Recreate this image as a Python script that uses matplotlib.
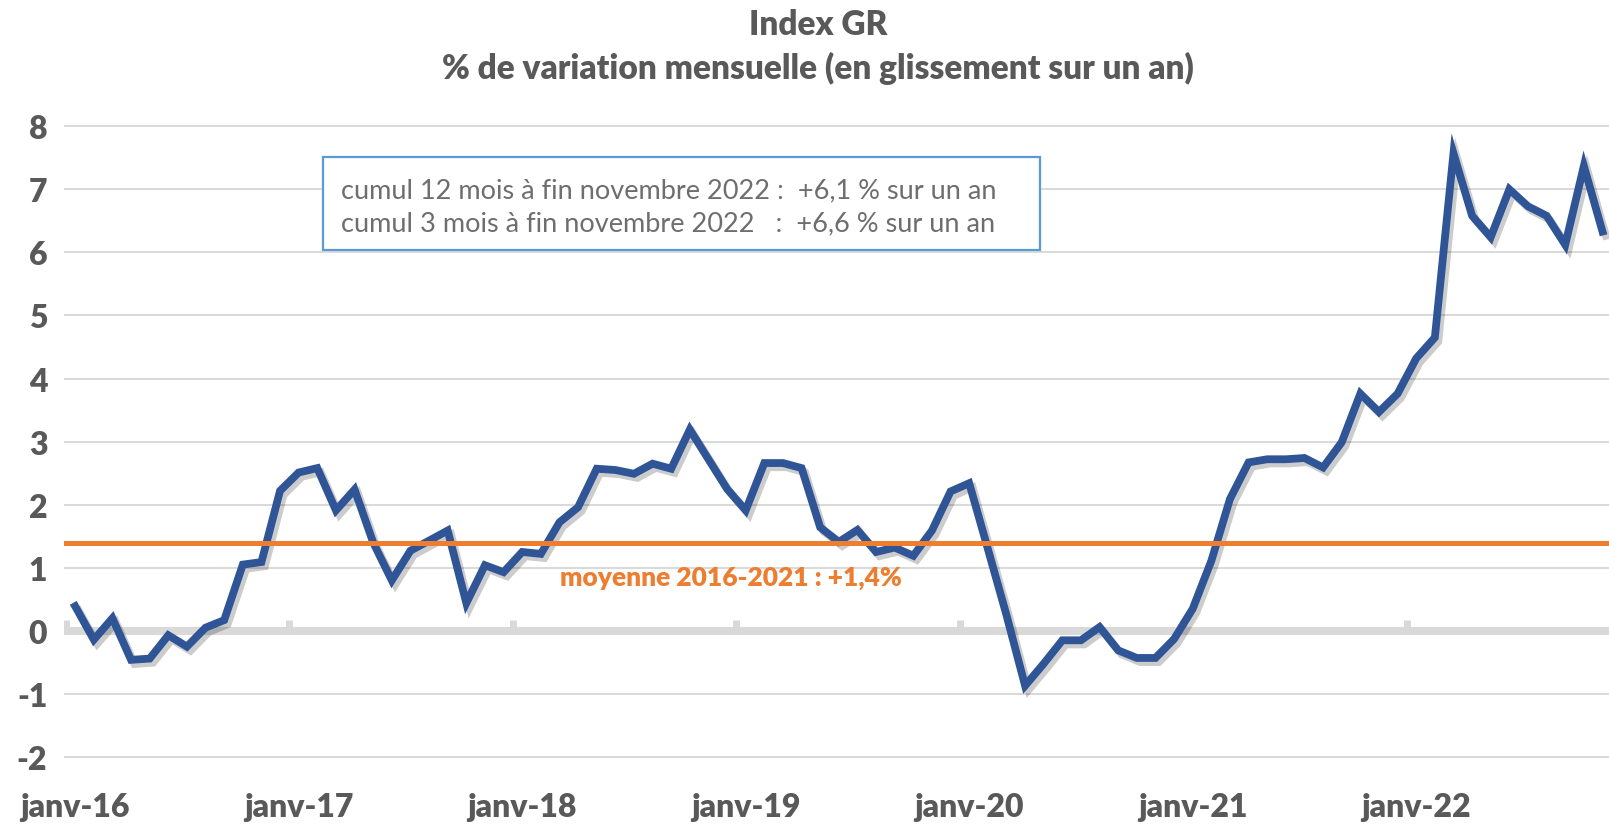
import matplotlib
matplotlib.use("Agg")
import matplotlib.pyplot as plt
import matplotlib.patheffects as pe
from matplotlib.patches import Rectangle

# Index GR, glissement annuel en %, janv-2016 -> nov-2022
valeurs = [
    0.39, -0.14, 0.20, -0.46, -0.44, -0.07, -0.25, 0.05, 0.17, 1.05, 1.09, 2.22,   # 2016
    2.51, 2.58, 1.91, 2.24, 1.40, 0.80, 1.27, 1.43, 1.59, 0.44, 1.04, 0.93,        # 2017
    1.25, 1.22, 1.72, 1.96, 2.57, 2.55, 2.49, 2.65, 2.57, 3.19, 2.72, 2.25,        # 2018
    1.91, 2.66, 2.66, 2.58, 1.64, 1.41, 1.60, 1.25, 1.32, 1.19, 1.59, 2.21,        # 2019
    2.34, 1.30, 0.25, -0.87, -0.52, -0.15, -0.15, 0.06, -0.31, -0.43, -0.43, -0.13,  # 2020
    0.35, 1.11, 2.09, 2.67, 2.72, 2.72, 2.74, 2.59, 2.99, 3.76, 3.47, 3.76,        # 2021
    4.32, 4.65, 7.57, 6.58, 6.24, 7.00, 6.73, 6.58, 6.12, 7.37, 6.33,              # 2022
]
moyenne = 1.4
annees = ["janv-16", "janv-17", "janv-18", "janv-19", "janv-20", "janv-21", "janv-22"]
y_ticks = [-2, -1, 0, 1, 2, 3, 4, 5, 6, 7, 8]

titre = "Index GR\n% de variation mensuelle (en glissement sur un an)"
texte_moyenne = "moyenne 2016-2021 : +1,4%"
ligne1 = "cumul 12 mois à fin novembre 2022 :  +6,1 % sur un an"
ligne2 = "cumul 3 mois à fin novembre 2022   :  +6,6 % sur un an"

gris = "#595959"
bleu = "#2F5597"
orange = "#ED7D31"
grille = "#D9D9D9"

plt.rcParams["font.family"] = ["Lato", "DejaVu Sans"]

W, H = 1609, 828
fig = plt.figure(figsize=(W / 100, H / 100), dpi=100)
ax = fig.add_axes([64 / W, 1 - 770.6 / H, 1 - 64 / W, 656 / H])

x = list(range(len(valeurs)))

ax.set_xlim(-0.6, 82.35)
ax.set_ylim(-2.2, 8.2)

for v in y_ticks:
    if v != 0:
        ax.axhline(v, color=grille, lw=1.4, zorder=1)
ax.axhline(0, color=grille, lw=5.8, zorder=1)
pos_marques = [12 * k - 0.5 for k in range(len(annees))]
ax.vlines(pos_marques, 0, 0.17, color=grille, lw=5, zorder=1)

ax.plot(x, valeurs, color=bleu, lw=5.6, solid_joinstyle="miter", zorder=3,
        path_effects=[pe.SimpleLineShadow(offset=(2.5, -3), shadow_color="black", alpha=0.2),
                      pe.Normal()])
ax.axhline(moyenne, color=orange, lw=3.6, zorder=4)

ax.text(35.2, 0.86, texte_moyenne, color=orange, fontsize=19, fontweight="heavy",
        ha="center", va="center", zorder=5)

ax.set_yticks(y_ticks)
ax.set_yticklabels([str(v) for v in y_ticks])
ax.set_xticks([12 * k for k in range(len(annees))])
ax.set_xticklabels(annees)
ax.tick_params(axis="both", length=0, colors=gris, labelsize=23)
ax.tick_params(axis="x", pad=16)
ax.tick_params(axis="y", pad=12)
for lab in ax.get_xticklabels() + ax.get_yticklabels():
    lab.set_fontweight("heavy")
for s in ax.spines.values():
    s.set_visible(False)

fig.text(818 / W, 1 - 47 / H, titre, ha="center", va="center", color=gris,
         fontsize=24, fontweight="heavy", linespacing=1.4)

# encadre
fig.patches.append(Rectangle((323 / W, 1 - 251 / H), (1040 - 323) / W, (251 - 158) / H,
                             transform=fig.transFigure, fill=True, facecolor="white",
                             edgecolor="#5B9BD5", lw=1.6, zorder=6))
fig.text(341 / W, 1 - 191 / H, ligne1, color="#6E6E6E", fontsize=19.5, va="center", zorder=7)
fig.text(341 / W, 1 - 224 / H, ligne2, color="#6E6E6E", fontsize=19.5, va="center", zorder=7)

fig.savefig("out.png", dpi=100)
